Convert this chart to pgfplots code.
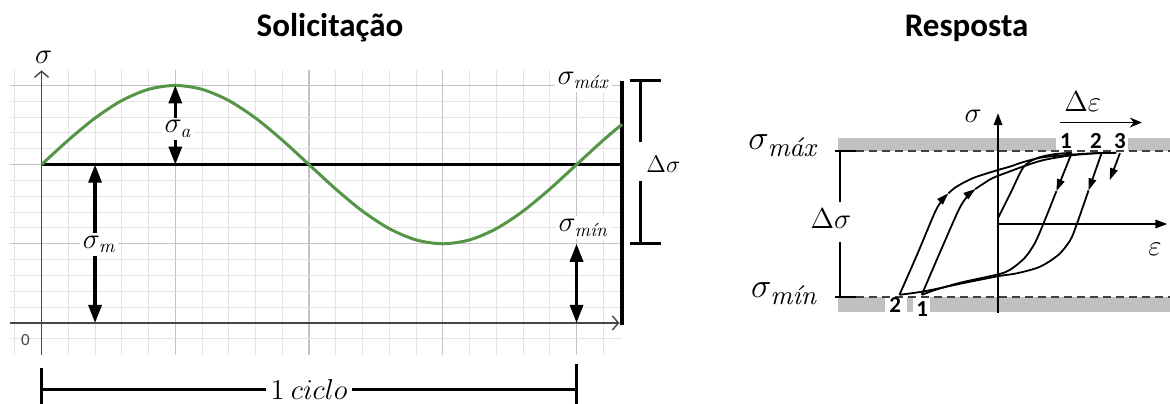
\documentclass[border=0pt]{standalone}
\usepackage[no-math]{fontspec}
\setmainfont{Carlito}
\newfontfamily\lmit{lmroman10-italic.otf}
\usepackage{pgfplots}
\pgfplotsset{compat=1.18}
\usetikzlibrary{arrows.meta}

\definecolor{gridmaj}{RGB}{196,196,196}
\definecolor{gridmin}{RGB}{228,228,228}
\definecolor{wave}{RGB}{84,150,70}
\definecolor{band}{RGB}{192,192,192}
\definecolor{axisgray}{RGB}{70,70,70}

% sizes of the formula labels
\newcommand\lmath{\fontsize{15}{18}\selectfont}
\newcommand\lsub[1]{_{\mbox{\fontsize{9.5}{11}\lmit #1}}}
\newcommand\rbig{\fontsize{17}{20}\selectfont}
\newcommand\rsub[1]{_{\mbox{\fontsize{13.5}{15}\lmit #1}}}
\newcommand\rmid{\fontsize{15}{18}\selectfont}
\newcommand\titlef{\fontsize{16.5}{19}\selectfont\bfseries}
\newcommand\digit{\fontsize{11.5}{13}\selectfont\bfseries}

\tikzset{
  dimarrow/.style={line width=1.6pt, {Triangle[length=9pt,width=6.5pt]}-{Triangle[length=9pt,width=6.5pt]}},
  loopline/.style={black, line width=0.9pt},
  looparrow/.style={black, line width=0.9pt, -{Triangle[length=6pt,width=3.8pt]}},
}

\begin{document}
\begin{tikzpicture}
\useasboundingbox (0,0) rectangle (585pt,201.5pt);

% titles
\node[anchor=base] at (165pt,183.2pt) {\titlef Solicitação};
\node[anchor=base] at (483.3pt,183.2pt) {\titlef Resposta};

% ---------------- load history ----------------
\begin{axis}[
  at={(5pt,24pt)}, anchor=south west, scale only axis,
  width=306pt, height=142.5pt,
  xmin=-0.236, xmax=4.34, ymin=-0.405, ymax=3.195,
  axis line style={draw=none}, tick style={draw=none},
  xtick={0,1,2,3,4}, ytick={0,1,2,3},
  minor xtick={-0.2,0.2,0.4,0.6,0.8,1.2,1.4,1.6,1.8,2.2,2.4,2.6,2.8,3.2,3.4,3.6,3.8,4.2},
  minor ytick={-0.2,0.2,0.4,0.6,0.8,1.2,1.4,1.6,1.8,2.2,2.4,2.6,2.8,3.2},
  xticklabels={}, yticklabels={},
  grid=both,
  major grid style={gridmaj, line width=0.6pt},
  minor grid style={gridmin, line width=0.5pt},
  clip=false,
]
% axes
\draw[axisgray, line width=0.7pt, -{Straight Barb[length=3pt,width=7pt]}] (0,-0.405) -- (0,3.19);
\draw[axisgray, line width=0.7pt, -{Straight Barb[length=3pt,width=7pt]}] (-0.236,0) -- (4.32,0);
\node[text=axisgray] at (-0.12,-0.215) {\fontsize{8.5}{10}\selectfont 0};
\node at (0.015,3.36) {\lmath$\sigma$};

% mean stress and frame
\draw[black, line width=1.6pt] (0,2) -- (4.34,2);
\draw[black, line width=2pt] (4.34,3.06) -- (4.34,-0.02);

% applied stress
\addplot[wave, line width=1.5pt, smooth] coordinates {
  (0,2) (0.2,2.309) (0.4,2.588) (0.6,2.809) (0.8,2.951) (1,3)
  (1.2,2.951) (1.4,2.809) (1.6,2.588) (1.8,2.309) (2,2)
  (2.2,1.691) (2.4,1.412) (2.6,1.191) (2.8,1.049) (3,1)
  (3.2,1.049) (3.4,1.191) (3.6,1.412) (3.8,1.691) (4,2)
  (4.2,2.309) (4.34,2.509)};

% amplitude, mean, minimum
\draw[dimarrow] (1,2) -- (1,3);
\node[fill=white, inner sep=1.5pt] at (1.02,2.45) {\lmath$\sigma\lsub{a}$};
\draw[dimarrow] (0.4,0) -- (0.4,2);
\node[fill=white, inner sep=1.5pt] at (0.43,0.99) {\lmath$\sigma\lsub{m}$};
\draw[dimarrow] (4,0) -- (4,1);
\node[fill=white, inner sep=1.5pt] at (4.05,1.2) {\lmath$\sigma\lsub{mín}$};
\node[fill=white, inner sep=1.5pt] at (4.05,3.06) {\lmath$\sigma\lsub{máx}$};

% stress range
\draw[line width=1.6pt] (4.40,3.06) -- (4.63,3.06);
\draw[line width=1.6pt] (4.40,1.0) -- (4.63,1.0);
\draw[line width=1.6pt] (4.48,3.06) -- (4.48,2.29);
\draw[line width=1.6pt] (4.48,1.79) -- (4.48,1.0);
\node[anchor=west, inner sep=0pt] at (4.52,2.0) {\fontsize{12}{14}\selectfont$\Delta\sigma$};

% one cycle
\draw[line width=1.6pt] (0,-0.843) -- (4,-0.843);
\draw[line width=1.6pt] (0,-0.567) -- (0,-1.08);
\draw[line width=1.6pt] (4,-0.52) -- (4,-1.08);
\node[fill=white, inner sep=2.5pt] at (2,-0.843) {\fontsize{13.5}{16}\selectfont$1\ ciclo$};
\end{axis}

% ---------------- stress-strain response ----------------
\begin{axis}[
  at={(418.7pt,43.875pt)}, anchor=south west, scale only axis,
  width=166.44pt, height=102.2pt,
  xmin=-2.2, xmax=2.36, ymin=-1.25, ymax=1.55,
  hide axis, clip=false,
]
% limit bands
\fill[band] (-2.19,1.0) rectangle (2.45,1.175);
\fill[band] (-2.19,-1.0) rectangle (2.45,-1.2);
\fill[white] (0.80,1.0) rectangle (1.785,1.18);
\fill[white] (-1.55,-1.0) rectangle (-1.25,-1.22);
\fill[white] (-1.16,-1.0) rectangle (-0.93,-1.22);
\draw[black!75, line width=0.6pt, dash pattern=on 4pt off 2.5pt] (-1.94,1) -- (2.45,1);
\draw[black!75, line width=0.6pt, dash pattern=on 4pt off 2.5pt] (-1.94,-1) -- (2.45,-1);

\node at (0.93,1.14) {\digit 1};
\node at (1.34,1.14) {\digit 2};
\node at (1.67,1.14) {\digit 3};
\node at (-1.41,-1.11) {\digit 2};
\node at (-1.04,-1.165) {\digit 1};

% range marker
\draw[line width=0.9pt] (-2.23,1) -- (-1.94,1);
\draw[line width=0.9pt] (-2.23,-1) -- (-1.94,-1);
\draw[line width=0.9pt] (-2.17,0.99) -- (-2.17,0.30);
\draw[line width=0.9pt] (-2.17,-0.25) -- (-2.17,-0.99);
\node at (-2.29,0.08) {\rmid$\Delta\sigma$};
\node at (-2.95,1.07) {\rbig$\sigma\rsub{máx}$};
\node at (-2.93,-0.96) {\rbig$\sigma\rsub{mín}$};

% axes
\draw[line width=1pt, -{Triangle[length=6pt,width=4.2pt]}] (0,-1.22) -- (0,1.52);
\draw[line width=1pt, -{Triangle[length=6pt,width=4.2pt]}] (0,0) -- (2.32,0);
\node at (-0.34,1.47) {\fontsize{14}{16}\selectfont$\sigma$};
\node at (2.15,-0.35) {\rmid$\varepsilon$};
\node at (1.16,1.68) {\rmid$\Delta\varepsilon$};
\draw[line width=0.8pt, -{Stealth[length=6pt,width=5pt]}] (0.85,1.39) -- (1.97,1.39);

% initial loading
\addplot[loopline, smooth] coordinates {
  (0,0.08) (0.17,0.42) (0.35,0.78) (0.53,0.90) (0.76,0.955) (1.01,0.975)};
% first unloading
\addplot[looparrow] coordinates {(1.01,0.975) (0.80,0.45)};
\addplot[loopline, smooth] coordinates {
  (0.80,0.45) (0.62,0) (0.50,-0.27) (0.36,-0.47) (0.16,-0.63) (0,-0.69)
  (-0.50,-0.80) (-0.85,-0.90) (-1.045,-0.97)};
% reloading from 1
\addplot[looparrow, smooth] coordinates {
  (-1.045,-0.97) (-0.80,-0.40) (-0.54,0.19) (-0.42,0.38) (-0.31,0.48)};
\addplot[loopline, smooth] coordinates {
  (-0.31,0.48) (-0.11,0.61) (0,0.66) (0.16,0.72) (0.35,0.79) (0.62,0.875)
  (1.0,0.94) (1.42,0.975)};
% second unloading
\addplot[looparrow] coordinates {(1.42,0.975) (1.24,0.46)};
\addplot[loopline, smooth] coordinates {
  (1.24,0.46) (1.08,0) (0.99,-0.22) (0.83,-0.42) (0.575,-0.585) (0.26,-0.675)
  (0,-0.715) (-0.50,-0.815) (-1.0,-0.92) (-1.35,-0.97)};
% reloading from 2
\addplot[looparrow, smooth] coordinates {
  (-1.35,-0.97) (-1.10,-0.40) (-0.86,0.17) (-0.76,0.33) (-0.68,0.42)};
\addplot[loopline, smooth] coordinates {
  (-0.68,0.42) (-0.57,0.51) (-0.34,0.63) (0,0.74) (0.16,0.785) (0.35,0.85)
  (0.62,0.915) (1.0,0.95) (1.3,0.968) (1.62,0.975)};
% next unloading
\addplot[looparrow] coordinates {(1.67,0.97) (1.53,0.60)};
\end{axis}
\end{tikzpicture}
\end{document}
